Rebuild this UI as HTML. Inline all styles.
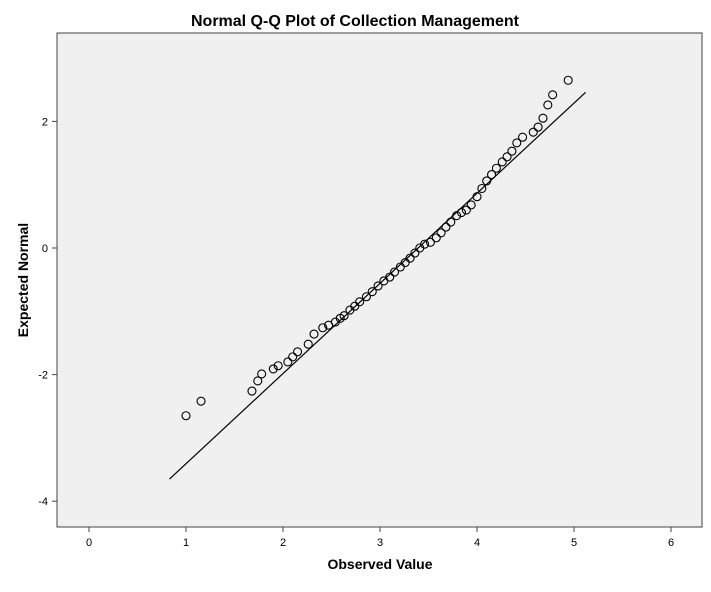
<!DOCTYPE html>
<html><head><meta charset="utf-8"><style>
body{margin:0;background:#fff;font-family:"Liberation Sans",Arial,sans-serif}
svg text{font-family:"Liberation Sans",Arial,sans-serif}
</style></head><body>
<svg id="chart" width="711" height="587">
<rect x="0" y="0" width="711" height="587" fill="#fff"/>
<text x="355" y="26" text-anchor="middle" font-size="16" font-weight="bold">Normal Q-Q Plot of Collection Management</text>
<rect x="57" y="33" width="645" height="494" fill="#f0f0f0" stroke="#444" stroke-width="1"/>
<g id="xaxis"></g><g id="yaxis"></g><g id="marks"></g>
<text x="380" y="569" text-anchor="middle" font-size="14" font-weight="bold">Observed Value</text>
<text transform="translate(28,280) rotate(-90)" text-anchor="middle" font-size="14" font-weight="bold">Expected Normal</text>
</svg>
<script>
const xTicks=[0,1,2,3,4,5,6];
const yTicks=[2,0,-2,-4];
const lineStart=[0.83,-3.65];
const lineEnd=[5.12,2.46];
const observed=[1.0,1.155,1.68,1.74,1.78,1.90,1.95,2.05,2.10,2.15,2.26,2.32,2.41,2.47,2.54,2.59,2.63,2.69,2.74,2.79,2.86,2.92,2.98,3.04,3.10,3.15,3.21,3.26,3.31,3.36,3.41,3.46,3.52,3.58,3.63,3.68,3.73,3.79,3.84,3.89,3.94,4.00,4.05,4.10,4.15,4.20,4.26,4.31,4.36,4.41,4.47,4.58,4.63,4.68,4.73,4.78,4.94];
const expected=[-2.65,-2.42,-2.26,-2.10,-1.99,-1.91,-1.86,-1.80,-1.72,-1.64,-1.52,-1.36,-1.26,-1.22,-1.17,-1.11,-1.07,-0.98,-0.92,-0.85,-0.77,-0.69,-0.60,-0.52,-0.46,-0.38,-0.30,-0.23,-0.16,-0.08,0,0.06,0.09,0.16,0.24,0.33,0.41,0.51,0.56,0.60,0.68,0.81,0.94,1.06,1.16,1.26,1.36,1.44,1.53,1.66,1.75,1.83,1.91,2.05,2.26,2.42,2.65];
const NS='http://www.w3.org/2000/svg';
function sx(v){return 89+v*97;}
function sy(v){return 248-v*63.3;}
function mk(tag,attrs,parent){const e=document.createElementNS(NS,tag);for(const k in attrs)e.setAttribute(k,attrs[k]);parent.appendChild(e);return e;}
const xg=document.getElementById('xaxis'),yg=document.getElementById('yaxis'),mg=document.getElementById('marks');
xTicks.forEach(t=>{
 const l=mk('line',{x1:sx(t),x2:sx(t),y1:527,y2:532,stroke:'#444'},xg);
 
 
 const tx=mk('text',{x:sx(t),y:546,'text-anchor':'middle','font-size':'11'},xg);tx.textContent=t;
 
 
});
yTicks.forEach(t=>{
 const l=mk('line',{x1:52,x2:57,y1:sy(t),y2:sy(t),stroke:'#444'},yg);
 
 
 const tx=mk('text',{x:48,y:sy(t)+4,'text-anchor':'end','font-size':'11'},yg);tx.textContent=t;
 
 
});
const ref=mk('line',{x1:sx(lineStart[0]),y1:sy(lineStart[1]),x2:sx(lineEnd[0]),y2:sy(lineEnd[1]),stroke:'#000','stroke-width':1.2},mg);


observed.forEach((v,i)=>{
 const c=mk('circle',{cx:sx(v),cy:sy(expected[i]),r:4,fill:'none',stroke:'#000','stroke-width':1.1},mg);
 
 
});
</script>
</body></html>
